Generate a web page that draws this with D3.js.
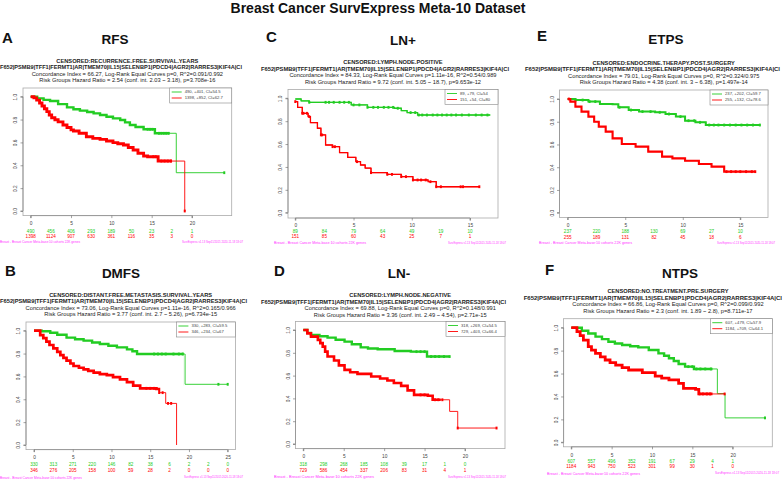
<!DOCTYPE html>
<html><head><meta charset="utf-8">
<script src="https://cdn.jsdelivr.net/npm/d3@7"></script>
<style>body{margin:0;background:#fff;} text{font-family:"Liberation Sans",Arial,sans-serif;}</style>
</head><body><svg id="c" width="784" height="480"></svg>
<script>
// ---------------- DATA ----------------
const chartTitle = "Breast Cancer SurvExpress Meta-10 Dataset";
const panelLetters = ["A","B","C","D","E","F"];
const panelNames = ["RFS","DMFS","LN+","LN-","ETPS","NTPS"];
const censoredTitles = [
  "CENSORED:RECURRENCE.FREE.SURVIVAL.YEARS",
  "CENSORED:DISTANT.FREE.METASTASIS.SURVIVAL.YEARS",
  "CENSORED:LYMPH.NODE.POSITIVE",
  "CENSORED:LYMPH.NODE.NEGATIVE",
  "CENSORED:ENDOCRINE.THERAPY.POST.SURGERY",
  "CENSORED:NO.TREATMENT.PRE.SURGERY"];
const geneSignature = "F652|PSMB9|TFF1|FERMT1|AR|TMEM70|IL15|SELENBP1|PDCD4|AGR2|RARRES3|KIF4A|Cl";
const concordanceLines = [
  "Concordance Index = 66.27, Log-Rank Equal Curves p=0, R^2=0.091/0.992",
  "Concordance Index = 73.06, Log-Rank Equal Curves p=1.11e-16, R^2=0.165/0.966",
  "Concordance Index = 84.33, Log-Rank Equal Curves p=1.11e-16, R^2=0.54/0.989",
  "Concordance Index = 69.88, Log-Rank Equal Curves p=0, R^2=0.148/0.991",
  "Concordance Index = 79.01, Log-Rank Equal Curves p=0, R^2=0.324/0.975",
  "Concordance Index = 66.86, Log-Rank Equal Curves p=0, R^2=0.099/0.992"];
const hazardLines = [
  "Risk Groups Hazard Ratio = 2.54 (conf. int. 2.03 ~ 3.18), p=3.708e-16",
  "Risk Groups Hazard Ratio = 3.77 (conf. int. 2.7 ~ 5.26), p=6.734e-15",
  "Risk Groups Hazard Ratio = 9.72 (conf. int. 5.05 ~ 18.7), p=9.653e-12",
  "Risk Groups Hazard Ratio = 3.36 (conf. int. 2.49 ~ 4.54), p=2.71e-15",
  "Risk Groups Hazard Ratio = 4.38 (conf. int. 3 ~ 6.38), p=1.497e-14",
  "Risk Groups Hazard Ratio = 2.3 (conf. int. 1.89 ~ 2.8), p=8.711e-17"];
const legendGreenLabels = ["490, +401, CI=54.5","330, +283, CI=59.5","89, +79, CI=54","318, +269, CI=54.5","237, +202, CI=59.7","607, +479, CI=57.9"];
const legendRedLabels = ["1398, +852, CI=62.7","346, +234, CI=67","151, +54, CI=80","729, +403, CI=66.4","255, +132, CI=78.6","1184, +709, CI=64.1"];
const footerLeft = "Breast - Breast Cancer Meta-base:10 cohorts 22K genes";
const footerRight = "SurvExpress v1.13 Sep11/2015 2020-11-18 18:07";
const yTicks = [0, 0.2, 0.4, 0.6, 0.8, 1.0];
const yTickLabels = ["0.0","0.2","0.4","0.6","0.8","1.0"];

// x ticks / numbers at risk
const xTicksA = [0,5,10,15,20];
const riskTimesA = [0,2.5,5,7.5,10,12.5,15,17.5,20];
const riskGreenA = [490,456,406,293,189,50,23,2,1];
const riskRedA = [1398,1124,907,630,361,116,35,3,0];
const xTicksB = [0,5,10,15,20,25];
const riskTimesB = [0,2.5,5,7.5,10,12.5,15,17.5,20,22.5,25];
const riskGreenB = [330,313,271,220,146,82,38,6,2,2,0];
const riskRedB = [346,276,205,158,100,59,28,2,0,0,0];
const xTicksC = [0,5,10,15];
const riskTimesC = [0,2.5,5,7.5,10,12.5,15];
const riskGreenC = [89,84,79,64,49,19,10];
const riskRedC = [151,85,60,43,25,7,1];
const xTicksD = [0,5,10,15,20];
const riskTimesD = [0,2.5,5,7.5,10,12.5,15,17.5,20];
const riskGreenD = [318,298,268,185,108,39,17,1,0];
const riskRedD = [729,586,454,337,206,83,31,4,1];
const xTicksE = [0,5,10,15];
const riskTimesE = [0,2.5,5,7.5,10,12.5,15];
const riskGreenE = [237,220,188,130,69,27,10];
const riskRedE = [255,189,131,82,45,18,6];
const xTicksF = [0,5,10,15,20];
const riskTimesF = [0,2.5,5,7.5,10,12.5,15,17.5,20];
const riskGreenF = [607,557,496,352,191,67,29,4,1];
const riskRedF = [1184,943,750,523,301,99,30,1,0];

// survival step curves [time, survival]
const survGreenA = [[0,1],[0.8,0.985],[1.6,0.972],[2.4,0.962],[3.4,0.935],[4.5,0.907],[5.3,0.89],[6.1,0.878],[7,0.866],[7.8,0.854],[8.6,0.84],[9.4,0.825],[10.2,0.81],[11.1,0.796],[11.7,0.775],[12.3,0.752],[13,0.735],[14,0.715],[15.4,0.68],[18.05,0.335],[24,0.335]];
const survRedA = [[0,1],[0.4,0.99],[0.74,0.97],[1.1,0.945],[1.4,0.918],[1.7,0.895],[2,0.869],[2.3,0.84],[2.6,0.816],[3,0.798],[3.4,0.78],[4,0.752],[4.5,0.73],[5,0.71],[5.3,0.7],[6,0.68],[6.9,0.65],[7.7,0.635],[8.6,0.627],[9.4,0.612],[10.2,0.598],[10.8,0.588],[11.5,0.577],[12.1,0.556],[12.7,0.534],[13.3,0.505],[14,0.481],[14.5,0.475],[15.8,0.437],[19.1,0]];
const survGreenB = [[0,1],[1,0.995],[2.1,0.982],[3,0.965],[4.2,0.939],[5.3,0.925],[6.4,0.913],[7.5,0.897],[8.5,0.883],[9.6,0.868],[10.7,0.854],[12,0.837],[12.7,0.82],[13.3,0.796],[19.5,0.531],[25,0.531]];
const survRedB = [[0,1],[0.8,0.962],[1.2,0.935],[1.6,0.904],[2,0.875],[2.5,0.845],[3,0.815],[3.4,0.787],[3.8,0.762],[4.2,0.738],[4.7,0.713],[5.1,0.691],[5.8,0.676],[6.4,0.662],[7,0.648],[7.7,0.633],[8.5,0.62],[9.4,0.612],[10.2,0.594],[11.1,0.574],[12,0.55],[12.8,0.519],[13.7,0.496],[15.8,0.49],[16.2,0.458],[17,0.364],[18.4,0]];
const survGreenC = [[0,0.994],[0.5,0.977],[1.2,0.965],[4.8,0.942],[6.2,0.921],[8.5,0.913],[9.1,0.892],[9.6,0.875],[10.5,0.854],[16.75,0.854]];
const survRedC = [[0,0.971],[0.2,0.92],[0.6,0.869],[1.1,0.84],[1.3,0.787],[1.9,0.738],[2.2,0.68],[2.6,0.592],[3.2,0.577],[3.8,0.525],[4.5,0.484],[5.2,0.446],[5.6,0.417],[6,0.39],[6.5,0.35],[7.9,0.335],[9.1,0.315],[10.1,0.286],[11.4,0.271],[12.1,0.227],[15.8,0.227]];
const survGreenD = [[0,1],[0.5,0.975],[0.95,0.956],[2,0.945],[3,0.933],[4,0.915],[5.1,0.898],[6,0.875],[7.1,0.848],[8,0.838],[9.2,0.831],[11.3,0.816],[13.3,0.81],[15.3,0.767],[18.1,0.767]];
const survRedD = [[0,1],[0.5,0.97],[0.95,0.942],[1.8,0.913],[2.1,0.885],[2.4,0.854],[2.7,0.81],[3,0.767],[3.8,0.732],[4.4,0.69],[5.1,0.65],[5.8,0.63],[6.7,0.615],[8.4,0.592],[9.5,0.575],[10.4,0.557],[11.2,0.535],[12.1,0.51],[12.9,0.47],[13.7,0.431],[15.4,0.423],[16,0.388],[18.1,0.286],[19.1,0.14],[23.9,0.14]];
const survGreenE = [[0,1],[0.67,0.991],[1.8,0.977],[2.8,0.956],[3.9,0.953],[4.4,0.927],[5.3,0.903],[6.2,0.889],[7.6,0.883],[8.5,0.868],[9.4,0.845],[10.2,0.809],[11.1,0.795],[12,0.771],[16.7,0.771]];
const survRedE = [[0,1],[0.23,0.977],[0.67,0.933],[1.2,0.889],[1.8,0.845],[2.3,0.8],[2.7,0.757],[3.3,0.713],[3.9,0.654],[4.7,0.604],[5.9,0.581],[7,0.537],[8.2,0.493],[9.1,0.478],[10.2,0.457],[11.4,0.428],[12.5,0.405],[13.6,0.361],[16.3,0.361]];
const survGreenF = [[0,1],[1.3,0.974],[2.1,0.95],[3,0.922],[3.8,0.9],[4.6,0.878],[5.4,0.862],[6.3,0.849],[7.3,0.838],[8.3,0.828],[9.6,0.805],[10.8,0.776],[11.5,0.755],[12.1,0.733],[12.7,0.71],[13.3,0.683],[14.1,0.66],[15.2,0.64],[18.1,0.425],[19.05,0.213],[24,0.213]];
const survRedF = [[0,1],[0.7,0.965],[1.1,0.93],[1.5,0.892],[2.1,0.834],[2.5,0.805],[3,0.776],[3.6,0.745],[4.2,0.718],[4.8,0.695],[5.5,0.674],[6.3,0.652],[7.1,0.631],[8.8,0.608],[10.4,0.578],[11.2,0.56],[12.1,0.544],[13.3,0.515],[13.9,0.471],[15.4,0.462],[15.8,0.422],[19,0.422]];

// censoring times (visible marks)
const censorGreenA = [14.5,14.8,15.1,15.9,16.2,16.5,16.8,17.1,24];
const censorRedA = [15.2,15.5,16.2,16.6,17,17.4,19.1];
const censorGreenB = [15.5,16,16.5,17,18,18.7,19.2,23.8,25];
const censorRedB = [14.5,15,15.5,16.6,17.3,17.7];
const censorGreenC = [1.2,2.6,2.9,3.3,3.8,4.2,4.6,5.0,5.5,6.2,6.7,7.1,7.6,8.0,8.4,8.8,9.9,10.3,10.6,10.9,11.3,11.8,12.2,12.6,13.0,13.4,13.8,14.3,14.9,15.5,16.0,16.5];
const censorRedC = [0,0.6,0.7,1.0,1.2,2.2,2.3,3.2,3.4,5.3,6.5,7.9,8.3,9.1,9.5,10.1,10.5,10.8,11.2,11.6,12.1,12.5,14.2,14.4,15.8];
const censorGreenD = [14,14.5,15,15.8,16.3,16.8,17.4,18.1];
const censorRedD = [14.5,15,16.3,16.7,17.2,19.1,23.9];
const censorGreenE = [0.7,1.3,1.9,2.4,4.5,5.5,6.5,7.2,8,8.8,9.8,10.5,11,11.5,12.3,12.7,13.1,13.6,14.1,14.6,15.1,15.6,16.1,16.7];
const censorRedE = [0.1,13.8,14.2,14.6,15,15.5,16,16.3];
const censorGreenF = [14.5,15,15.5,16,16.6,17.3,24];
const censorRedF = [15.9,16.3,16.8,17.2,19];

// ---------------- LAYOUT (positions & styles) ----------------
const GREEN = "#22cc22", RED = "#ff0000";
const panels = [
 {i:0, green:survGreenA, red:survRedA, cg:censorGreenA, cr:censorRedA, xt:xTicksA, rt:riskTimesA, rg:riskGreenA, rr:riskRedA,
  L:{xs:[0,20,30.7,192], ys:[211,96.7], box:[23,231.7,88,215.6], letter:[2,42.5], name:[115,43.5], sub:[61,67.5,74,80.5], sig:[0,242], legW:62, tick:223, rgy:231, rry:236, foot:242, fl:[0,80], fr:[182,243], thickG:17.2, thickR:17.5, wG:2.4, wR:2.9}},
 {i:1, green:survGreenB, red:survRedB, cg:censorGreenB, cr:censorRedB, xt:xTicksB, rt:riskTimesB, rg:riskGreenB, rr:riskRedB,
  L:{xs:[0,25,34,227.7], ys:[445,330.7], box:[26,235.4,322,449.6], letter:[5,275.5], name:[121,278], sub:[295,301.5,308,314.5], sig:[0,247], legW:59, tick:457.5, rgy:464, rry:470, foot:477.5, fl:[0,82], fr:[184,243], thickG:19.3, thickR:16.3, wG:2.4, wR:2.7}},
 {i:2, green:survGreenC, red:survRedC, cg:censorGreenC, cr:censorRedC, xt:xTicksC, rt:riskTimesC, rg:riskGreenC, rr:riskRedC,
  L:{xs:[0,15,295.3,470], ys:[212.7,98.3], box:[288,498,89.5,218], letter:[266,41.5], name:[403,45], sub:[62.5,69,75.5,82], sig:[261,509], legW:53, tick:225, rgy:231, rry:236, foot:243, fl:[274,366], fr:[448,506], thickG:16.75, thickR:15.8, wG:1.3, wR:1.3}},
 {i:3, green:survGreenD, red:survRedD, cg:censorGreenD, cr:censorRedD, xt:xTicksD, rt:riskTimesD, rg:riskGreenD, rr:riskRedD,
  L:{xs:[0,20,303.3,465], ys:[444,330], box:[295.5,505,321.5,448.6], letter:[274,276], name:[399,277.5], sub:[295.5,302,308.5,315], sig:[261,506], legW:59, tick:456, rgy:464, rry:470, foot:477, fl:[274,374], fr:[448,506], thickG:18.1, thickR:17, wG:2.4, wR:2.6}},
 {i:4, green:survGreenE, red:survRedE, cg:censorGreenE, cr:censorRedE, xt:xTicksE, rt:riskTimesE, rg:riskGreenE, rr:riskRedE,
  L:{xs:[0,15,567.7,740.3], ys:[212.7,99], box:[559.5,768,90,217.5], letter:[537,40.5], name:[666,44], sub:[63,69.5,76,82.5], sig:[525,780], legW:58, tick:225, rgy:231, rry:237, foot:243, fl:[539,632], fr:[717,775], thickG:16.7, thickR:16.3, wG:2, wR:2.1}},
 {i:5, green:survGreenF, red:survRedF, cg:censorGreenF, cr:censorRedF, xt:xTicksF, rt:riskTimesF, rg:riskGreenF, rr:riskRedF,
  L:{xs:[0,20,571.3,732.7], ys:[442.3,327.7], box:[563.6,772.3,318.7,446.8], letter:[545,275], name:[680,277.5], sub:[291.5,298,304.5,311], sig:[523.7,782], legW:62, tick:455, rgy:461, rry:466.7, foot:473.5, fl:[547,640], fr:[715,779], thickG:17.5, thickR:17.5, wG:2.4, wR:2.8}}
];

// ---------------- DRAW ----------------
const svg = d3.select("#c");
svg.append("rect").attr("width",784).attr("height",480).attr("fill","#fff");
svg.append("text").attr("x",378).attr("y",12.5).attr("text-anchor","middle")
  .attr("font-size",14).attr("font-weight","bold").attr("fill","#111").text(chartTitle);

function survAt(curve, t){ let s = curve[0][1]; for (const p of curve){ if (p[0] <= t) s = p[1]; } return s; }

panels.forEach(p => {
  const L = p.L, i = p.i;
  const g = svg.append("g");
  const x = d3.scaleLinear().domain([L.xs[0], L.xs[1]]).range([L.xs[2], L.xs[3]]);
  const y = d3.scaleLinear().domain([0,1]).range(L.ys);
  const [bx0,bx1,by0,by1] = L.box;

  // headings
  g.append("text").attr("x",L.letter[0]).attr("y",L.letter[1]).attr("font-size",15).attr("font-weight","bold").attr("fill","#111").text(panelLetters[i]);
  g.append("text").attr("x",L.name[0]).attr("y",L.name[1]).attr("text-anchor","middle").attr("font-size",13.5).attr("font-weight","bold").attr("fill","#111").text(panelNames[i]);
  const cx = (bx0+bx1)/2;
  g.append("text").attr("x",cx).attr("y",L.sub[0]).attr("dy","0.35em").attr("text-anchor","middle").attr("font-size",5.7).attr("font-weight","bold").attr("fill","#222").text(censoredTitles[i]);
  g.append("text").attr("x",L.sig[0]).attr("y",L.sub[1]).attr("dy","0.35em").attr("font-size",5.2).attr("font-weight","bold").attr("fill","#222")
    .attr("textLength",L.sig[1]-L.sig[0]).attr("lengthAdjust","spacingAndGlyphs").text(geneSignature);
  g.append("text").attr("x",cx).attr("y",L.sub[2]).attr("dy","0.35em").attr("text-anchor","middle").attr("font-size",5.7).attr("fill","#222").text(concordanceLines[i]);
  g.append("text").attr("x",cx).attr("y",L.sub[3]).attr("dy","0.35em").attr("text-anchor","middle").attr("font-size",5.7).attr("fill","#222").text(hazardLines[i]);

  // box
  g.append("rect").attr("x",bx0).attr("y",by0).attr("width",bx1-bx0).attr("height",by1-by0)
    .attr("fill","none").attr("stroke","#aaa").attr("stroke-width",0.8);

  // y axis
  const ya = g.append("g").attr("transform",`translate(${bx0},0)`)
    .call(d3.axisLeft(y).tickValues(yTicks).tickSize(2.5).tickFormat((d,k)=>yTickLabels[k]));
  ya.select(".domain").attr("stroke","#999").attr("d",`M-2.5,${y(0)}H0V${y(1)}H-2.5`);
  ya.selectAll(".tick line").attr("stroke","#666").attr("stroke-width",0.6);
  ya.selectAll(".tick text").attr("font-size",4.8).attr("fill","#444").attr("font-family","Liberation Sans, Arial")
    .attr("x",0).attr("y",0).attr("dy","0.35em").attr("text-anchor","middle")
    .attr("transform","translate(-7.5,0) rotate(-90)");

  // x axis
  const xa = g.append("g").attr("transform",`translate(0,${by1})`)
    .call(d3.axisBottom(x).tickValues(p.xt).tickSize(2.5).tickFormat(d3.format("d")));
  xa.select(".domain").attr("stroke","#999").attr("d",`M${x(p.xt[0])},2.5V0H${x(p.xt[p.xt.length-1])}V2.5`);
  xa.selectAll(".tick line").attr("stroke","#666").attr("stroke-width",0.6);
  xa.selectAll(".tick text").attr("font-size",4.8).attr("fill","#444").attr("font-family","Liberation Sans, Arial")
    .attr("y",0).attr("dy","0.35em").attr("transform",`translate(0,${L.tick-by1})`);

  // numbers at risk
  g.selectAll(".rg").data(p.rt).enter().append("text").attr("x",t=>x(t)).attr("y",L.rgy).attr("dy","0.35em")
    .attr("text-anchor","middle").attr("font-size",4.6).attr("fill",GREEN).text((t,k)=>p.rg[k]);
  g.selectAll(".rr").data(p.rt).enter().append("text").attr("x",t=>x(t)).attr("y",L.rry).attr("dy","0.35em")
    .attr("text-anchor","middle").attr("font-size",4.6).attr("fill",RED).text((t,k)=>p.rr[k]);

  // curves
  const line = d3.line().x(d=>x(d[0])).y(d=>y(d[1])).curve(d3.curveStepAfter);
  const drawCurve = (data, col, thickEnd, w, cens, key) => {
    g.append("path").attr("d",line(data)).attr("fill","none").attr("stroke",col).attr("stroke-width",0.9);
    if (thickEnd > 0){
      const cid = "clip"+i+key;
      svg.append("clipPath").attr("id",cid).append("rect")
        .attr("x",bx0).attr("y",by0).attr("width",x(thickEnd)-bx0).attr("height",by1-by0);
      g.append("path").attr("d",line(data)).attr("fill","none").attr("stroke",col)
        .attr("stroke-width",w).attr("clip-path",`url(#${cid})`);
    }
    g.selectAll(".c"+key).data(cens).enter().append("rect")
      .attr("x",t=>x(t)-1).attr("y",t=>y(survAt(data,t))-1.4).attr("width",2).attr("height",2.8).attr("fill",col);
  };
  drawCurve(p.green, GREEN, L.thickG, L.wG, p.cg, "g");
  drawCurve(p.red, RED, L.thickR, L.wR, p.cr, "r");

  // legend
  const lx = bx1 - L.legW, ly = by0;
  g.append("rect").attr("x",lx).attr("y",ly).attr("width",L.legW).attr("height",15)
    .attr("fill","#fff").attr("stroke","#888").attr("stroke-width",0.6);
  [[legendGreenLabels[i],GREEN,4],[legendRedLabels[i],RED,10]].forEach(([lab,col,dy])=>{
    g.append("line").attr("x1",lx+2).attr("x2",lx+12).attr("y1",ly+dy).attr("y2",ly+dy).attr("stroke",col).attr("stroke-width",0.9);
    g.append("text").attr("x",lx+15).attr("y",ly+dy).attr("dy","0.35em").attr("font-size",4.2).attr("fill","#444").text(lab);
  });

  // footers
  g.append("text").attr("x",L.fl[0]).attr("y",L.foot).attr("dy","0.35em").attr("font-size",3.3).attr("fill","#ff33ff")
    .attr("textLength",L.fl[1]-L.fl[0]).attr("lengthAdjust","spacingAndGlyphs").text(footerLeft);
  g.append("text").attr("x",L.fr[0]).attr("y",L.foot).attr("dy","0.35em").attr("font-size",2.6).attr("fill","#ff33ff")
    .attr("textLength",L.fr[1]-L.fr[0]).attr("lengthAdjust","spacingAndGlyphs").text(footerRight);
});
</script></body></html>
